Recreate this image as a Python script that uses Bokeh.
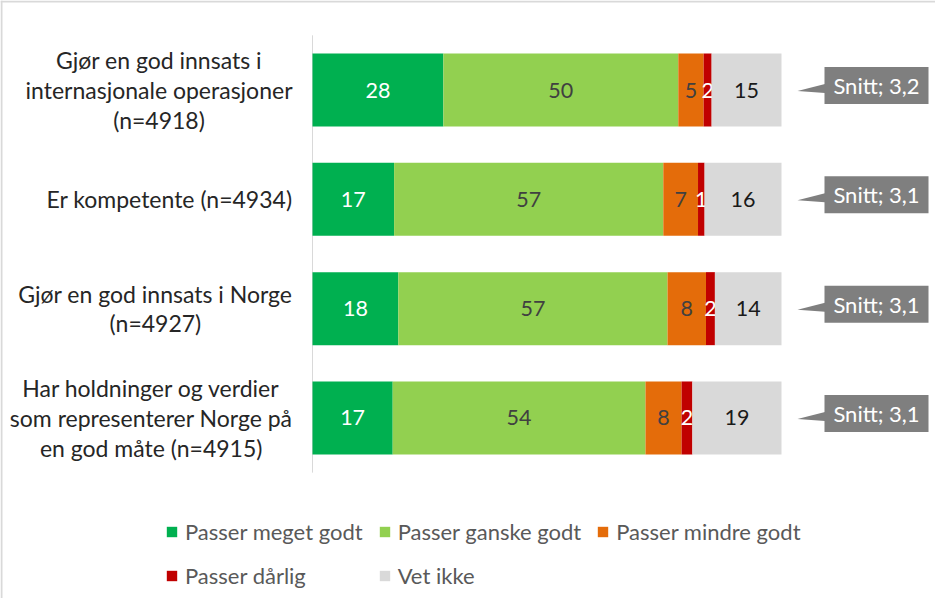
from bokeh.plotting import figure
from bokeh.models import ColumnDataSource, Legend, LegendItem, Span
from bokeh.core.properties import value
from bokeh.embed import file_html
from bokeh.resources import INLINE

# ---- data ----
categories = [
    "Gjør en god innsats i\ninternasjonale operasjoner\n(n=4918)",
    "Er kompetente (n=4934)",
    "Gjør en god innsats i Norge\n(n=4927)",
    "Har holdninger og verdier\nsom representerer Norge på\nen god måte (n=4915)",
]
series_names = ["Passer meget godt", "Passer ganske godt", "Passer mindre godt",
                "Passer dårlig", "Vet ikke"]
meget_godt = [27.9, 17.4, 18.3, 17.1]
ganske_godt = [50.1, 57.4, 57.4, 53.9]
mindre_godt = [5.4, 7.4, 8.2, 7.7]
darlig = [1.7, 1.4, 1.9, 2.3]
vet_ikke = [14.9, 16.4, 14.2, 19.0]
snitt = [3.2, 3.1, 3.1, 3.1]

# ---- styles ----
colors = ["#00B050", "#92D050", "#E46C0A", "#C00000", "#D9D9D9"]
label_colors = ["#FFFFFF", "#404040", "#404040", "#FFFFFF", "#1A1A1A"]
FONT = value("Lato")
FS = "21.5px"

W, H = 935, 598
PX_X = 4.69          # px per percent
X0_PX = 312          # px position of 0 from figure left
PX_Y = 109.33        # px per category
Y_TOP_PX = 89.5      # px from top of first bar centre

x_start = -X0_PX / PX_X
x_end = (W - X0_PX) / PX_X
n = len(categories)
ys = [n - i for i in range(n)]
y_end = n + Y_TOP_PX / PX_Y
y_start = n - (H - Y_TOP_PX) / PX_Y

p = figure(width=W, height=H, x_range=(x_start, x_end), y_range=(y_start, y_end),
           x_axis_type=None, y_axis_type=None, toolbar_location=None,
           output_backend="svg", min_border=0, outline_line_color=None)
p.grid.visible = False

# frame lines (top and left of the chart area)
p.add_layout(Span(location=x_start + 1 / PX_X, dimension="height",
                  line_color="#D9D9D9", line_width=2))
p.add_layout(Span(location=y_end - 1 / PX_Y, dimension="width",
                  line_color="#D9D9D9", line_width=2))

# category axis line
p.segment(x0=[0], y0=[0.5], x1=[0], y1=[n + 0.5], line_color="#D9D9D9", line_width=1)

series = [meget_godt, ganske_godt, mindre_godt, darlig, vet_ikke]
cum = [0.0] * n
renderers = []
for vals, col, lcol in zip(series, colors, label_colors):
    left = cum[:]
    right = [a + b for a, b in zip(cum, vals)]
    src = ColumnDataSource(dict(y=ys, left=left, right=right,
                                mid=[(a + b) / 2 for a, b in zip(left, right)],
                                lab=[str(round(v)) for v in vals]))
    r = p.hbar(y="y", left="left", right="right", height=0.668, source=src,
               fill_color=col, line_color=None)
    renderers.append(r)
    p.text(x="mid", y="y", text="lab", source=src, text_align="center",
           text_baseline="middle", text_font=FONT, text_font_size=FS,
           text_color=lcol)
    cum = right

# category labels
p.text(x=[-20 / PX_X] * n, y=ys, text=categories, anchor="center_right",
       text_align="center", text_baseline="middle", text_font=FONT,
       text_font_size="23px", text_color="#262626", text_line_height=1.06)

# callouts
bx_l, bx_r = (832 - 320) / PX_X, (936 - 320) / PX_X
tip_x = (805 - 320) / PX_X
top_off, bot_off = 23 / PX_Y, 14 / PX_Y
p.quad(left=[bx_l] * n, right=[bx_r] * n, top=[y + top_off for y in ys],
       bottom=[y - bot_off for y in ys], fill_color="#7F7F7F", line_color=None)
p.patches(xs=[[tip_x, bx_l + 0.1, bx_l + 0.1] for _ in ys],
          ys=[[y - 1 / PX_Y, y + 6 / PX_Y, y - 3 / PX_Y] for y in ys],
          fill_color="#7F7F7F", line_color=None)
p.text(x=[(bx_l + bx_r) / 2] * n, y=[y + (top_off - bot_off) / 2 for y in ys],
       text=[("Snitt; %.1f" % s).replace(".", ",") for s in snitt],
       text_align="center", text_baseline="middle", text_font=FONT,
       text_font_size="22px", text_color="#FFFFFF")

legend = Legend(items=[LegendItem(label=nm, renderers=[r])
                       for nm, r in zip(series_names, renderers)],
                ncols=3, location=(165, 8), orientation="horizontal",
                label_text_font="Lato", label_text_font_size="22px",
                label_text_color="#595959", glyph_width=13, glyph_height=13,
                label_standoff=7, spacing=15, padding=0, margin=0,
                border_line_color=None, background_fill_alpha=0,
                label_height=29)
p.add_layout(legend, "center")

open("out.html", "w").write(file_html(p, INLINE))
